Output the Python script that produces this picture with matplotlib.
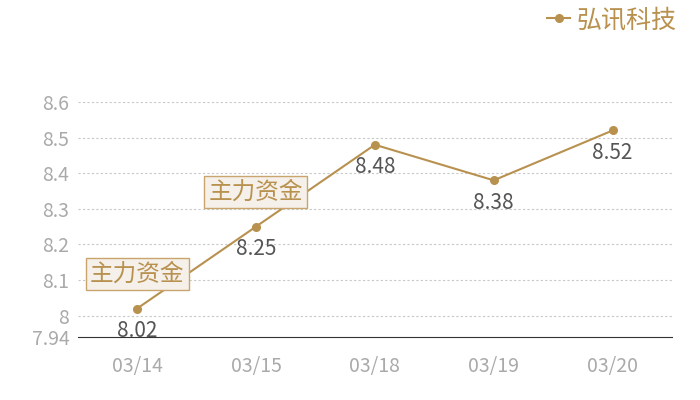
import matplotlib.pyplot as plt

plt.rcParams['font.family'] = ['Noto Sans CJK SC', 'DejaVu Sans']

dates = ['03/14', '03/15', '03/18', '03/19', '03/20']
prices = [8.02, 8.25, 8.48, 8.38, 8.52]
flag_idx = [0, 1]
flag_text = '主力资金'
series_name = '弘讯科技'
yticks = [7.94, 8, 8.1, 8.2, 8.3, 8.4, 8.5, 8.6]
ytick_labels = ['7.94', '8', '8.1', '8.2', '8.3', '8.4', '8.5', '8.6']

gold = '#b8914f'
fig = plt.figure(figsize=(7, 4), dpi=100)
ax = fig.add_axes([0.111, 0.1575, 0.849, 0.5875])

x = list(range(len(dates)))
ax.plot(x, prices, color=gold, lw=1.5, marker='o', ms=5.5, zorder=3, label=series_name)

for i, v in zip(x, prices):
    ax.annotate(f'{v:.2f}', (i, v), xytext=(0, -16), textcoords='offset points',
                ha='center', va='center', fontsize=15, color='#555555', zorder=4)

for i in flag_idx:
    ax.annotate(flag_text, (i, prices[i]), xytext=(0, 25), textcoords='offset points',
                ha='center', va='center', fontsize=17, color=gold, zorder=5,
                bbox=dict(boxstyle='square,pad=0.18', fc='#f5f0ea', ec='#c9a46c', lw=1))

ax.set_xlim(-0.5, 4.5)
ax.set_ylim(7.94, 8.6)
ax.set_xticks(x)
ax.set_xticklabels(dates)
ax.set_yticks(yticks)
ax.set_yticklabels(ytick_labels)
ax.tick_params(length=0, labelsize=14, colors='#aaaaaa', pad=6)
ax.tick_params(axis='x', pad=14)
for t in ax.get_yticks()[1:]:
    ax.axhline(t, color='#c8c8c8', lw=0.8, ls=(0, (2, 2)), zorder=1)
for s in ['top', 'right', 'left']:
    ax.spines[s].set_visible(False)
ax.spines['bottom'].set_color('#333333')
ax.spines['bottom'].set_linewidth(0.8)

leg = ax.legend(loc='upper right', bbox_to_anchor=(1.045, 1.5), frameon=False,
                fontsize=18, handlelength=0.9, handletextpad=0.25)
for t in leg.get_texts():
    t.set_color(gold)

fig.savefig('out.png')
